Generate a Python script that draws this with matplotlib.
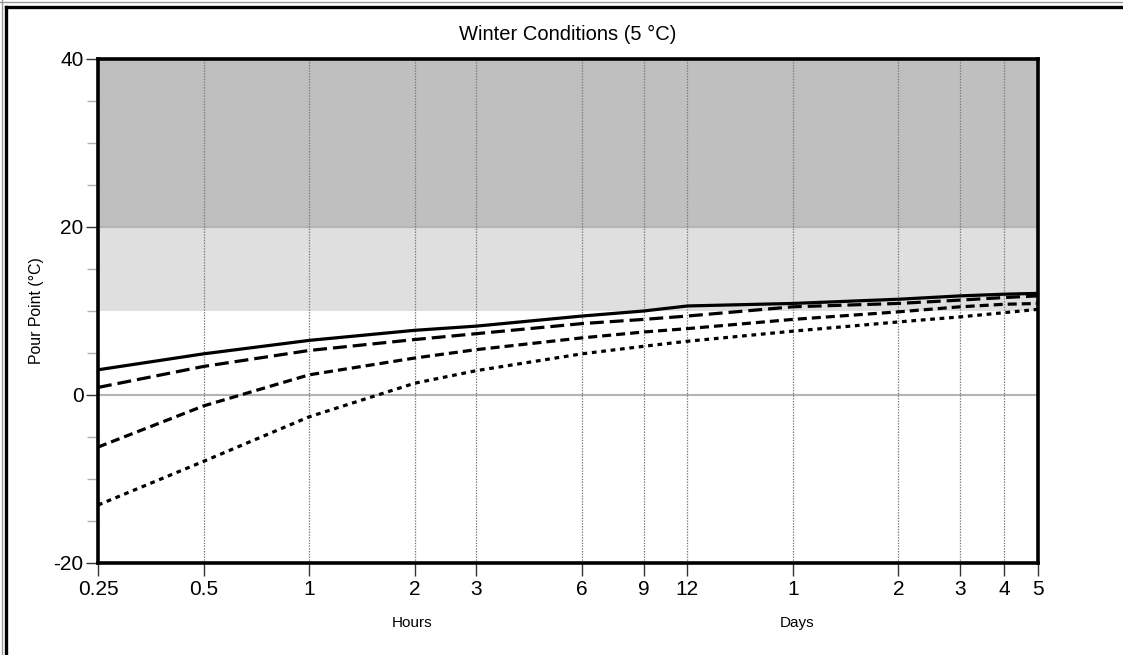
import matplotlib
matplotlib.use("Agg")
import matplotlib.pyplot as plt
from matplotlib.lines import Line2D
from matplotlib.ticker import FixedLocator, NullFormatter

plt.rcParams['font.family'] = ['Liberation Sans', 'DejaVu Sans']
plt.rcParams['lines.scale_dashes'] = False
plt.rcParams['axes.unicode_minus'] = False

# Data
hours = [0.25, 0.5, 1, 2, 3, 6, 9, 12, 24, 48, 72, 96, 120]
tick_labels = ['0.25', '0.5', '1', '2', '3', '6', '9', '12', '1', '2', '3', '4', '5']
series_solid = [3.0, 4.9, 6.5, 7.7, 8.2, 9.4, 10.0, 10.6, 10.9, 11.4, 11.8, 12.0, 12.1]
series_longdash = [0.9, 3.4, 5.3, 6.6, 7.3, 8.5, 9.0, 9.4, 10.5, 10.9, 11.3, 11.6, 11.8]
series_dash = [-6.2, -1.3, 2.4, 4.4, 5.4, 6.8, 7.5, 7.9, 9.0, 9.9, 10.5, 10.8, 10.9]
series_dot = [-13.1, -7.9, -2.6, 1.4, 2.9, 4.9, 5.8, 6.4, 7.6, 8.7, 9.3, 9.8, 10.2]
band_dark = (20, 40)
band_light = (10, 20)
y_major = [-20, 0, 20, 40]
y_minor = [-15, -10, -5, 5, 10, 15, 25, 30, 35]

W, H = 1123, 655
fig = plt.figure(figsize=(W / 100, H / 100), dpi=100)
ax = fig.add_axes([98 / W, 1 - 563 / H, (1038 - 98) / W, (563 - 59) / H])

ax.set_xscale('log')
ax.set_xlim(hours[0], hours[-1])
ax.set_ylim(-20, 40)

ax.axhspan(*band_dark, color='#bfbfbf', zorder=0, lw=0)
ax.axhspan(*band_light, color='#dfdfdf', zorder=0, lw=0)

for v in y_major:
    ax.axhline(v, color='#b4b4b4', lw=1.5, zorder=1)
for h in hours:
    ax.axvline(h, color='#7a7a7a', lw=0.9, ls=(0, (1, 1)), zorder=1)

ax.plot(hours, series_solid, color='black', lw=2.3, zorder=5, solid_capstyle='butt')
ax.plot(hours, series_longdash, color='black', lw=2.3, dashes=(10, 4.3), zorder=5, dash_capstyle='butt')
ax.plot(hours, series_dash, color='black', lw=2.3, dashes=(6.5, 3.6), zorder=5, dash_capstyle='butt')
ax.plot(hours, series_dot, color='black', lw=2.3, dashes=(3.4, 3.4), zorder=5, dash_capstyle='butt')

ax.xaxis.set_major_locator(FixedLocator(hours))
ax.xaxis.set_minor_locator(FixedLocator([]))
ax.xaxis.set_minor_formatter(NullFormatter())
ax.set_xticklabels(tick_labels)
ax.yaxis.set_major_locator(FixedLocator(y_major))
ax.yaxis.set_minor_locator(FixedLocator(y_minor))

ax.tick_params(axis='both', which='major', direction='out', length=9, width=1,
               color='#333333', labelsize=15, pad=1.5)
ax.tick_params(axis='x', which='major', pad=3.5)
ax.tick_params(axis='y', which='minor', direction='out', length=8, width=1, color='#b0b0b0')

for s in ax.spines.values():
    s.set_linewidth(2.6)
    s.set_color('black')
    s.set_zorder(6)

fig.text(568 / W, 1 - 34 / H, 'Winter Conditions (5 °C)', ha='center', va='center', fontsize=14.5)
ax.set_ylabel('Pour Point (°C)', fontsize=11.4)
ax.yaxis.set_label_coords(-54 / 940, 0.5)

fig.text(412 / W, 1 - 623 / H, 'Hours', ha='center', va='center', fontsize=11)
fig.text(797 / W, 1 - 623 / H, 'Days', ha='center', va='center', fontsize=11)

# outer frame (cropped)
fig.add_artist(Line2D([6 / W, 6 / W], [0, 1 - 7 / H], color='black', lw=2.4, transform=fig.transFigure))
fig.add_artist(Line2D([6 / W, 1], [1 - 7 / H, 1 - 7 / H], color='black', lw=2.4, transform=fig.transFigure))
fig.add_artist(Line2D([0, 1], [1 - 1.5 / H, 1 - 1.5 / H], color='#999999', lw=1, transform=fig.transFigure))
fig.add_artist(Line2D([1.5 / W, 1.5 / W], [0, 1], color='#999999', lw=1, transform=fig.transFigure))

fig.savefig('out.png', dpi=100)
